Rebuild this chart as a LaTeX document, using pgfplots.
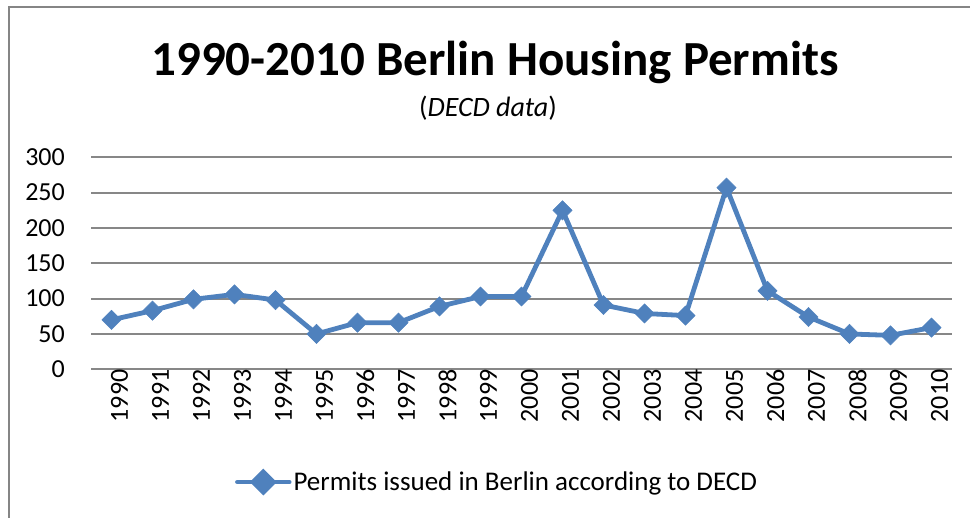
\documentclass[border=0pt]{standalone}
\usepackage{pgfplots}
\pgfplotsset{compat=1.18}
\usepackage{fontspec}
\setmainfont{Carlito}
\definecolor{ser}{HTML}{4F81BD}
\definecolor{gridc}{HTML}{878787}
\definecolor{framec}{HTML}{858585}
\pgfplotstableread{
x y
0 70
1 83
2 99
3 106
4 98
5 50
6 66
7 66
8 89
9 103
10 103
11 225
12 91
13 79
14 76
15 257
16 111
17 74
18 50
19 48
20 59
}\permits
\begin{document}
\begin{tikzpicture}[x=1pt,y=1pt]
\useasboundingbox (0,0) rectangle (970,518);
\draw[line width=2pt, color=framec] (8.7,0) -- (8.7,511.3) -- (970,511.3);
\node[font=\fontsize{49}{56}\selectfont\bfseries, anchor=base, inner sep=0] at (495,442) {1990-2010 Berlin Housing Permits};
\node[font=\fontsize{28}{32}\selectfont, anchor=base, inner sep=0] at (488,401) {(\textit{DECD data})};
\begin{axis}[
  at={(91pt,148.7pt)}, anchor=south west,
  scale only axis, width=861pt, height=212pt,
  xmin=-0.5, xmax=20.5, ymin=0, ymax=300,
  ytick={0,50,...,300},
  xtick={0,...,20},
  xticklabels={1990,1991,1992,1993,1994,1995,1996,1997,1998,1999,2000,2001,2002,2003,2004,2005,2006,2007,2008,2009,2010},
  axis line style={draw=none},
  ymajorgrids, grid style={gridc, line width=2pt},
  major tick length=0pt,
  tick label style={font=\fontsize{26}{28}\selectfont, black},
  /pgf/number format/assume math mode=true,
  xticklabel style={rotate=90, anchor=east, inner sep=0pt, xshift=0pt, yshift=-8pt},
  yticklabel style={anchor=east, inner sep=0pt, xshift=-26pt},
  legend style={at={(0.4716,-0.532)}, anchor=center, draw=none, fill=none,
    font=\fontsize{27}{30}\selectfont, inner sep=0pt,
    nodes={inner sep=2pt}},
  legend image code/.code={
    \draw[ser, line width=4.5pt, line cap=round] (0pt,0pt) -- (52pt,0pt);
    \fill[ser] (26pt,-10pt) -- (36pt,0pt) -- (26pt,10pt) -- (16pt,0pt) -- cycle;
  },
  clip=false,
]
\addplot[ser, line width=4.8pt, mark=square*, mark size=6.8pt,
  mark options={rotate=45, fill=ser, draw=ser, line width=0.5pt}]
  table[x=x, y=y] {\permits};
\addlegendentry{Permits issued in Berlin according to DECD}
\end{axis}
\end{tikzpicture}
\end{document}
